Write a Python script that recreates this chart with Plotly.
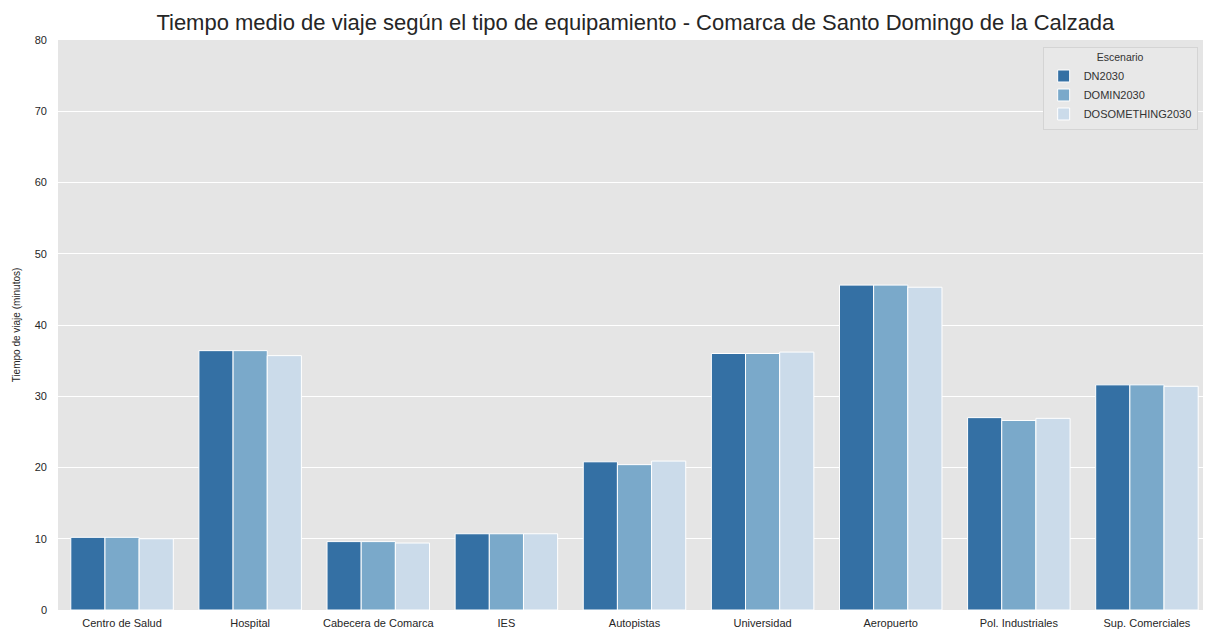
import plotly.graph_objects as go

# Datos
equipamientos = ["Centro de Salud", "Hospital", "Cabecera de Comarca", "IES", "Autopistas",
                 "Universidad", "Aeropuerto", "Pol. Industriales", "Sup. Comerciales"]
dn2030 = [10.2, 36.4, 9.6, 10.7, 20.8, 36.0, 45.6, 27.0, 31.6]
domin2030 = [10.2, 36.4, 9.6, 10.7, 20.4, 36.0, 45.6, 26.6, 31.6]
dosomething2030 = [10.0, 35.7, 9.4, 10.7, 20.9, 36.2, 45.3, 26.9, 31.4]

escenarios = ["DN2030", "DOMIN2030", "DOSOMETHING2030"]
series = [dn2030, domin2030, dosomething2030]
colores = ["#3470a4", "#7aa9ca", "#cbdbea"]

FONT = "Arial, Liberation Sans, sans-serif"

fig = go.Figure()
for nombre, valores, color in zip(escenarios, series, colores):
    fig.add_trace(go.Bar(
        x=equipamientos, y=valores, name=nombre,
        marker=dict(color=color, line=dict(color="white", width=1)),
    ))

# la página tiene 8px de margen en el body, por eso 1203x624
fig.update_layout(
    width=1203, height=624,
    barmode="group", bargap=0.2, bargroupgap=0,
    paper_bgcolor="white", plot_bgcolor="#e5e5e5",
    font=dict(family=FONT, color="#333333", size=11),
    margin=dict(l=50, r=0, t=32, b=22, autoexpand=False),
    title=dict(text="Tiempo medio de viaje según el tipo de equipamiento - Comarca de Santo Domingo de la Calzada",
               x=0.5215, xanchor="center", y=0.977, yanchor="middle",
               font=dict(size=22, color="#262626")),
    legend=dict(
        title=dict(text="Escenario", side="top center", font=dict(size=10.5)),
        x=0.854, xanchor="left", y=0.988, yanchor="top",
        bgcolor="#e8e8e8", bordercolor="#d4d4d4", borderwidth=1,
        font=dict(size=11), tracegroupgap=0, itemwidth=30,
    ),
    showlegend=True,
)
fig.update_xaxes(showgrid=False, ticks="", ticklabelstandoff=5,
                 tickfont=dict(size=11, color="#262626"),
                 range=[-0.5, 8.5], automargin=False)
fig.update_yaxes(range=[0, 80], dtick=10, gridcolor="white", gridwidth=1,
                 zeroline=False, ticks="", ticklabelstandoff=10, automargin=False,
                 tickfont=dict(size=11, color="#262626"),
                 title=dict(text="Tiempo de viaje (minutos)", font=dict(size=10, color="#262626"),
                            standoff=12))

fig.write_html("out.html")
